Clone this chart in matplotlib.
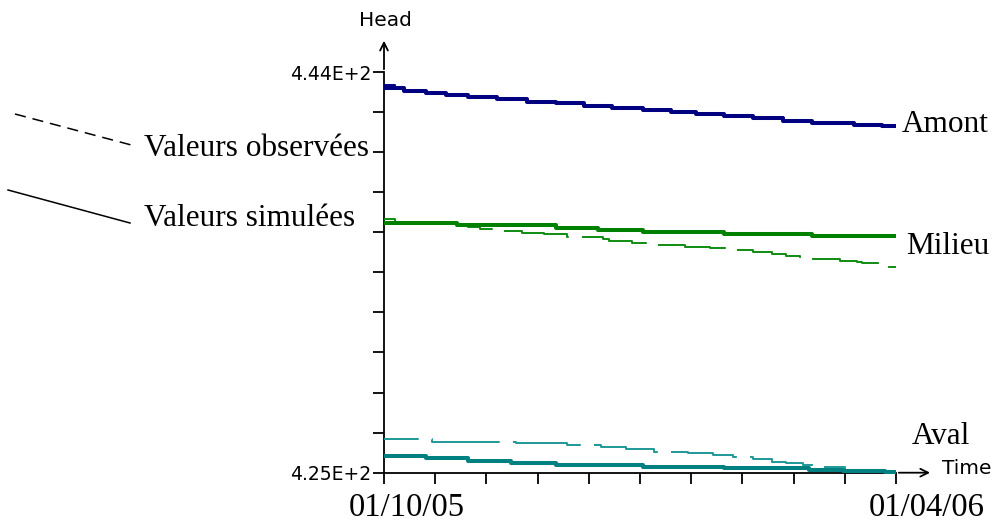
import matplotlib
matplotlib.use('Agg')
import matplotlib.pyplot as plt
import numpy as np

# time axis in days from 01/10/05 to 01/04/06, head in m
x_end = 182
head_min, head_max = 425.0, 444.0

# Amont (upstream) - simulated / observed, step changes (day, head)
amont_sim_days = [0, 7, 15, 22, 30, 40, 51, 61, 71, 81, 92, 102, 111, 121, 131, 142, 152, 167, 177, 182]
amont_sim_head = [443.24, 443.10, 443.01, 442.91, 442.82, 442.72, 442.58, 442.53, 442.39, 442.29,
                  442.20, 442.10, 442.01, 441.91, 441.82, 441.70, 441.58, 441.51, 441.44, 441.44]
amont_obs_days = [0, 4, 7, 15, 22, 30, 40, 51, 61, 71, 81, 92, 102, 111, 121, 131, 142, 152, 167, 177, 182]
amont_obs_head = [443.38, 443.24, 443.10, 443.01, 442.91, 442.82, 442.72, 442.58, 442.53, 442.39, 442.29,
                  442.20, 442.10, 442.01, 441.91, 441.82, 441.70, 441.58, 441.51, 441.44, 441.44]

# Milieu (middle)
milieu_sim_days = [0, 11, 26, 61, 76, 92, 121, 152, 182]
milieu_sim_head = [436.86, 436.82, 436.75, 436.60, 436.51, 436.39, 436.32, 436.22, 436.22]
milieu_obs_days = [0, 4, 11, 26, 30, 34, 41, 49, 57, 65, 78, 80, 88, 95, 107, 116, 124, 131,
                   138, 143, 148, 151, 162, 168, 170, 178, 182]
milieu_obs_head = [437.01, 436.86, 436.82, 436.70, 436.65, 436.56, 436.46, 436.37, 436.30, 436.18,
                   436.08, 435.99, 435.89, 435.80, 435.72, 435.64, 435.56, 435.47, 435.35, 435.28,
                   435.18, 435.15, 435.04, 434.99, 434.92, 434.75, 434.75]

# Aval (downstream)
aval_sim_days = [0, 15, 30, 45, 61, 92, 121, 151, 163, 178, 182]
aval_sim_head = [425.79, 425.68, 425.57, 425.46, 425.37, 425.29, 425.21, 425.15, 425.10, 425.03, 425.03]
aval_obs_days = [0, 17, 47, 65, 77, 86, 96, 108, 117, 124, 131, 138, 143, 149, 156, 164, 173, 182]
aval_obs_head = [426.60, 426.47, 426.39, 426.30, 426.20, 426.11, 426.00, 425.92, 425.84, 425.74,
                 425.65, 425.52, 425.45, 425.35, 425.25, 425.15, 425.08, 425.08]

series = [
    ('Amont', amont_sim_days, amont_sim_head, amont_obs_days, amont_obs_head, '#000080', '#000080'),
    ('Milieu', milieu_sim_days, milieu_sim_head, milieu_obs_days, milieu_obs_head, '#008000', '#108c10'),
    ('Aval', aval_sim_days, aval_sim_head, aval_obs_days, aval_obs_head, '#008080', '#209898'),
]

plt.rcParams['lines.scale_dashes'] = False

fig = plt.figure(figsize=(9.93, 5.26), dpi=100)
W, H = 993, 526
x0, x1 = 384, 896
y_top, y_bot = 72, 472.7
ax = fig.add_axes([x0 / W, 1 - y_bot / H, (x1 - x0) / W, (y_bot - y_top) / H])

for name, sd, sh, od, oh, col, ocol in series:
    ax.plot(od, oh, color=ocol, lw=1.4, drawstyle='steps-post',
            linestyle=(26, (51, 9.5)), clip_on=False, zorder=2)
    ax.plot(sd, sh, color=col, lw=2.9, drawstyle='steps-post',
            solid_capstyle='butt', clip_on=False, zorder=3)

ax.set_xlim(0, x_end)
ax.set_ylim(head_min, head_max)
for s in ['top', 'right']:
    ax.spines[s].set_visible(False)
for s in ['left', 'bottom']:
    ax.spines[s].set_linewidth(1.3)
    ax.spines[s].set_zorder(1)

ax.set_xticks(np.linspace(0, x_end, 11))
ax.set_xticklabels([])
yt = np.linspace(head_min, head_max, 11)
ax.set_yticks(yt)
ax.set_yticklabels(['4.25E+2'] + [''] * 9 + ['4.44E+2'], fontsize=13.5, family='DejaVu Sans')
ax.tick_params(axis='both', direction='out', length=8, width=1.3, pad=1)

# axis arrows
ax.annotate('', xy=(0, 1.085), xytext=(0, 1.0), xycoords='axes fraction',
            arrowprops=dict(arrowstyle='->', lw=1.3, color='black', mutation_scale=14))
ax.annotate('', xy=(1.072, 0), xytext=(1.0, 0), xycoords='axes fraction',
            arrowprops=dict(arrowstyle='->', lw=1.3, color='black', mutation_scale=14))
fig.text(385 / W, 1 - 20 / H, 'Head', ha='center', va='center', fontsize=14.5, family='DejaVu Sans')
fig.text(942 / W, 1 - 469 / H, 'Time', ha='left', va='center', fontsize=14.5, family='DejaVu Sans')

serif = 'Liberation Serif'
fs = 22.5
fig.text(407 / W, 1 - 508 / H, '01/10/05', ha='center', va='center', fontsize=23.5, family=serif)
fig.text(927 / W, 1 - 508 / H, '01/04/06', ha='center', va='center', fontsize=23.5, family=serif)
fig.text(902 / W, 1 - 125 / H, 'Amont', ha='left', va='center', fontsize=fs, family=serif)
fig.text(906 / W, 1 - 247 / H, 'Milieu', ha='left', va='center', fontsize=fs, family=serif)
fig.text(912 / W, 1 - 437 / H, 'Aval', ha='left', va='center', fontsize=fs, family=serif)
fig.text(144 / W, 1 - 148 / H, 'Valeurs observées', ha='left', va='center', fontsize=fs, family=serif)
fig.text(144 / W, 1 - 218 / H, 'Valeurs simulées', ha='left', va='center', fontsize=fs, family=serif)

# legend leader lines
fig.add_artist(plt.Line2D([15 / W, 135 / W], [1 - 114 / H, 1 - 146 / H], color='black', lw=1.1,
                          linestyle=(0, (8, 5))))
fig.add_artist(plt.Line2D([8 / W, 130 / W], [1 - 190 / H, 1 - 223 / H], color='black', lw=1.1))

fig.savefig('out.png', dpi=100)
